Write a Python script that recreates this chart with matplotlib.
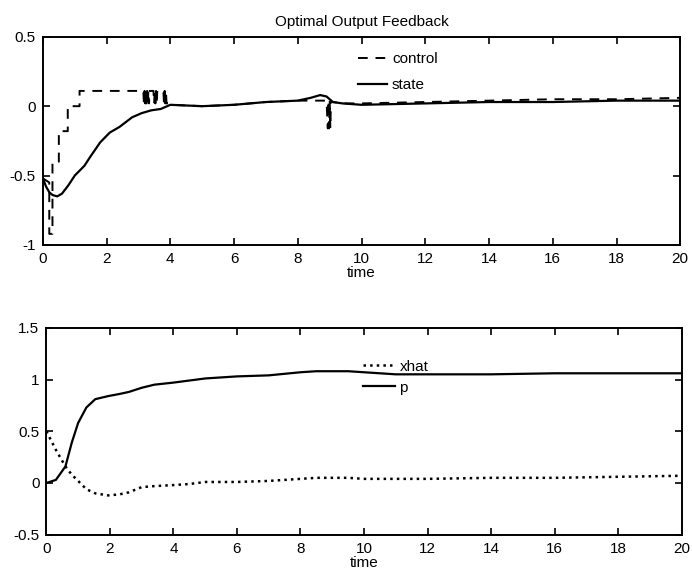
import numpy as np
import matplotlib.pyplot as plt

plt.rcParams['font.family'] = ['Liberation Sans', 'DejaVu Sans']
plt.rcParams['font.size'] = 10

#####
# Data
# top panel: control (dashed, bang-bang steps + chatter) and state (solid)
t_ctrl = [0.0, 0.2, 0.2, 0.3, 0.3, 0.5, 0.5, 0.78, 0.78, 1.15, 1.15,
          3.15, 3.17, 3.19, 3.21, 3.23, 3.25, 3.27, 3.29, 3.31, 3.33, 3.35,
          3.47, 3.49, 3.51, 3.53, 3.55, 3.57, 3.59,
          3.78, 3.80, 3.82, 3.84, 3.86, 3.88, 3.9,
          4.0, 5.0, 6.0, 7.0, 8.0, 8.5, 8.9,
          8.94, 8.96, 8.98, 9.0, 9.02, 9.04, 9.06,
          9.5, 10.0, 12.0, 14.0, 16.0, 18.0, 20.0]
u_ctrl = [-0.52, -0.55, -0.92, -0.92, -0.4, -0.4, -0.18, -0.18, 0.0, 0.0, 0.11,
          0.11, 0.02, 0.11, 0.02, 0.11, 0.02, 0.11, 0.02, 0.11, 0.02, 0.11,
          0.11, 0.02, 0.11, 0.02, 0.11, 0.02, 0.11,
          0.11, 0.02, 0.11, 0.02, 0.11, 0.02, 0.02,
          0.01, 0.0, 0.01, 0.03, 0.04, 0.04, 0.04,
          -0.16, 0.04, -0.16, 0.04, -0.16, 0.04, 0.03,
          0.02, 0.02, 0.03, 0.04, 0.05, 0.05, 0.06]

t_state = [0.0, 0.1, 0.2, 0.3, 0.45, 0.6, 0.8, 1.0, 1.3, 1.5, 1.8, 2.1, 2.4,
           2.8, 3.1, 3.4, 3.7, 4.0, 5.0, 6.0, 7.0, 8.0, 8.4, 8.7, 8.9, 9.1,
           9.4, 10.0, 12.0, 14.0, 16.0, 18.0, 20.0]
x_state = [-0.52, -0.58, -0.62, -0.64, -0.65, -0.63, -0.57, -0.5, -0.43, -0.36,
           -0.26, -0.19, -0.15, -0.08, -0.05, -0.03, -0.02, 0.01, 0.0, 0.01,
           0.03, 0.04, 0.06, 0.08, 0.07, 0.03, 0.02, 0.01, 0.02, 0.03, 0.03,
           0.04, 0.04]

# bottom panel: xhat (dotted) and p (solid)
t_bot = [0.0, 0.3, 0.6, 0.8, 1.0, 1.26, 1.54, 1.95, 2.3, 2.6, 3.0, 3.4, 4.0,
         4.5, 5.0, 6.0, 7.0, 8.0, 8.5, 9.0, 9.5, 10.0, 11.0, 12.0, 14.0,
         16.0, 18.0, 20.0]
xhat = [0.5, 0.32, 0.16, 0.08, 0.02, -0.06, -0.1, -0.12, -0.11, -0.09, -0.04,
        -0.03, -0.02, -0.01, 0.01, 0.01, 0.02, 0.04, 0.05, 0.05, 0.05, 0.04,
        0.04, 0.04, 0.05, 0.05, 0.06, 0.07]
p = [0.0, 0.03, 0.16, 0.39, 0.58, 0.73, 0.81, 0.84, 0.86, 0.88, 0.92, 0.95,
     0.97, 0.99, 1.01, 1.03, 1.04, 1.07, 1.08, 1.08, 1.08, 1.07, 1.05, 1.05,
     1.05, 1.06, 1.06, 1.06]

xticks = np.arange(0, 21, 2)


def matlab_axes(ax):
    for s in ax.spines.values():
        s.set_linewidth(1.4)
    ax.tick_params(direction='in', top=True, right=True, length=5, width=1.2,
                   labelsize=11, pad=5)
    ax.set_xlim(0, 20)
    ax.set_xticks(xticks)


fig = plt.figure(figsize=(6.92, 5.75), dpi=100)
ax1 = fig.add_axes([0.062, 0.574, 0.921, 0.362])
ax2 = fig.add_axes([0.067, 0.07, 0.918, 0.36])

#####
# top
ax1.plot(t_ctrl, u_ctrl, 'k--', lw=1.4, dashes=(5, 4), label='control')
ax1.plot(t_state, x_state, 'k-', lw=1.6, label='state')
matlab_axes(ax1)
ax1.set_ylim(-1, 0.5)
ax1.set_yticks([-1, -0.5, 0, 0.5])
ax1.set_yticklabels(['-1', '-0.5', '0', '0.5'])
ax1.set_xlabel('time', fontsize=11, labelpad=0)
ax1.set_title('Optimal Output Feedback', fontsize=11, pad=8)
ax1.legend(loc='upper left', bbox_to_anchor=(0.495, 0.925), frameon=False,
           handlelength=1.9, handletextpad=0.3, labelspacing=0.75,
           borderpad=0, borderaxespad=0, fontsize=11)

#####
# bottom
ax2.plot(t_bot, xhat, 'k:', lw=1.8, label='xhat')
ax2.plot(t_bot, p, 'k-', lw=1.6, label='p')
matlab_axes(ax2)
ax2.set_ylim(-0.5, 1.5)
ax2.set_yticks([-0.5, 0, 0.5, 1, 1.5])
ax2.set_yticklabels(['-0.5', '0', '0.5', '1', '1.5'])
ax2.set_xlabel('time', fontsize=11, labelpad=0)
ax2.legend(loc='upper left', bbox_to_anchor=(0.498, 0.845), frameon=False,
           handlelength=2.1, handletextpad=0.3, labelspacing=0.45,
           borderpad=0, borderaxespad=0, fontsize=11)

fig.savefig('out.png', dpi=100)
